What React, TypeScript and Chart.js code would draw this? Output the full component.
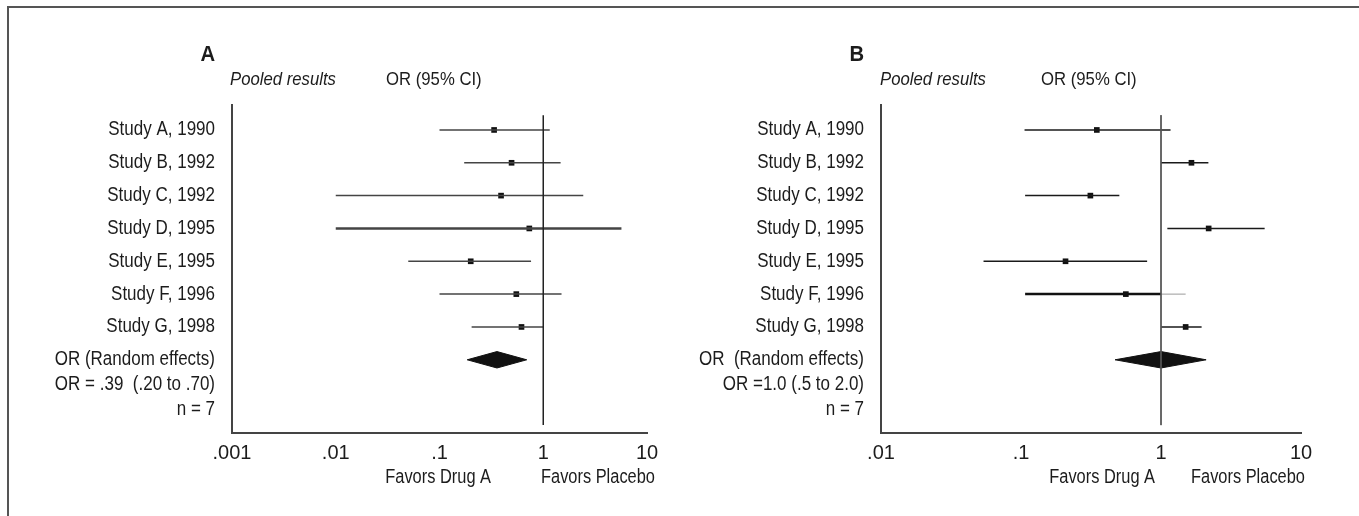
import React, { useEffect, useRef } from "react";
import { Chart, registerables } from "chart.js";

Chart.register(...registerables);

// ---------- data ----------
const studyLabels = [
  "Study A, 1990",
  "Study B, 1992",
  "Study C, 1992",
  "Study D, 1995",
  "Study E, 1995",
  "Study F, 1996",
  "Study G, 1998",
];
const rowPositions = [1, 2, 3, 4, 5, 6, 7];
const pooledRow = 8;

// Panel A (odds ratios, 95% CI)
const aEstimate = [0.336, 0.495, 0.392, 0.734, 0.2, 0.55, 0.617];
const aLower = [0.1, 0.173, 0.01, 0.01, 0.05, 0.1, 0.204];
const aUpper = [1.155, 1.47, 2.43, 5.67, 0.763, 1.5, 1.0];
const aPooled = [0.185, 0.358, 0.693]; // lower, estimate, upper
const aTicks = [0.001, 0.01, 0.1, 1, 10];
const aTickLabels = [".001", ".01", ".1", "1", "10"];
const aSummary = ["OR (Random effects)", "OR = .39  (.20 to .70)", "n = 7"];

// Panel B
const bEstimate = [0.348, 1.65, 0.313, 2.19, 0.208, 0.561, 1.5];
const bLower = [0.106, 1.0, 0.107, 1.11, 0.054, 0.107, 1.0];
const bUpper = [1.17, 2.18, 0.504, 5.5, 0.796, 1.5, 1.95];
const bPooled = [0.47, 1.0, 2.1];
const bTicks = [0.01, 0.1, 1, 10];
const bTickLabels = [".01", ".1", "1", "10"];
const bSummary = ["OR  (Random effects)", "OR =1.0 (.5 to 2.0)", "n = 7"];

const FONT = "'Liberation Sans', Arial, sans-serif";
const TEXT = "#1c1c1c";

function drawText(
  ctx: CanvasRenderingContext2D,
  text: string,
  x: number,
  y: number,
  align: CanvasTextAlign,
  font: string,
  sx: number
) {
  ctx.save();
  ctx.font = font;
  ctx.fillStyle = TEXT;
  ctx.textAlign = align;
  ctx.textBaseline = "middle";
  ctx.translate(x, y);
  ctx.scale(sx, 1);
  ctx.fillText(text, 0, 0);
  ctx.restore();
}

type PanelProps = {
  letter: string;
  estimate: number[];
  lower: number[];
  upper: number[];
  pooled: number[];
  ticks: number[];
  tickLabels: string[];
  summary: string[];
  xMin: number;
  xMax: number;
  left: number;
  width: number;
  pad: { left: number; right: number; top: number; bottom: number };
  lineWidths: number[];
  lineColor: string;
  splitAtOne: boolean[];
  refWidth: number;
  refColor: string;
  pooledX: number;
  orX: number;
  drugRight: number;
  placeboLeft: number;
};

function Panel(p: PanelProps) {
  const ref = useRef<HTMLCanvasElement>(null);
  useEffect(() => {
    if (!ref.current) return;
    const datasets: any[] = [];
    datasets.push({
      data: [
        { x: 1, y: 0.55 },
        { x: 1, y: 9.99 },
      ],
      borderColor: p.refColor,
      borderWidth: p.refWidth,
      pointRadius: 0,
    });
    studyLabels.forEach((_, i) => {
      const y = rowPositions[i];
      const split = p.splitAtOne[i];
      const pts = split
        ? [
            { x: p.lower[i], y },
            { x: 1, y },
            { x: p.upper[i], y },
          ]
        : [
            { x: p.lower[i], y },
            { x: p.upper[i], y },
          ];
      const ds: any = {
        data: pts,
        borderColor: p.lineColor,
        borderWidth: p.lineWidths[i],
        pointRadius: 0,
      };
      if (split) {
        ds.segment = {
          borderWidth: (c: any) => (c.p0DataIndex === 0 ? 2.5 : 1),
          borderColor: (c: any) => (c.p0DataIndex === 0 ? "#111" : "#9a9a9a"),
        };
      }
      datasets.push(ds);
    });
    const h = 0.25;
    const [lo, est, hi] = p.pooled;
    datasets.push({
      data: [
        { x: lo, y: pooledRow },
        { x: est, y: pooledRow - h },
        { x: hi, y: pooledRow },
        { x: est, y: pooledRow + h },
        { x: lo, y: pooledRow },
      ],
      borderColor: "#111",
      backgroundColor: "#111",
      borderWidth: 1,
      fill: "shape",
      pointRadius: 0,
    });
    datasets.push({
      data: p.estimate.map((v, i) => ({ x: v, y: rowPositions[i] })),
      showLine: false,
      pointStyle: "rect",
      pointRadius: 4,
      pointBackgroundColor: "#111",
      pointBorderColor: "#111",
      pointBorderWidth: 0,
      borderColor: "#111",
    });

    const textPlugin = {
      id: "forestText",
      afterDraw(chart: any) {
        const ctx = chart.ctx as CanvasRenderingContext2D;
        const area = chart.chartArea;
        const ys = chart.scales.y;
        const labelX = area.left - 17;
        drawText(ctx, p.letter, labelX, 55, "right", `bold 22px ${FONT}`, 0.92);
        drawText(ctx, "Pooled results", p.pooledX, 80, "left", `italic 19px ${FONT}`, 0.88);
        drawText(ctx, "OR (95% CI)", p.orX, 80, "left", `19px ${FONT}`, 0.88);
        studyLabels.forEach((s, i) => {
          drawText(ctx, s, labelX, ys.getPixelForValue(rowPositions[i]), "right", `20px ${FONT}`, 0.85);
        });
        const sumRows = [pooledRow, pooledRow + 0.75, pooledRow + 1.5];
        p.summary.forEach((s, i) => {
          drawText(ctx, s, labelX, ys.getPixelForValue(sumRows[i]), "right", `20px ${FONT}`, 0.85);
        });
        drawText(ctx, "Favors Drug A", p.drugRight, 477, "right", `20px ${FONT}`, 0.82);
        drawText(ctx, "Favors Placebo", p.placeboLeft, 477, "left", `20px ${FONT}`, 0.82);
      },
    };

    const chart = new Chart(ref.current, {
      type: "line",
      data: { datasets },
      options: {
        animation: false,
        responsive: false,
        events: [],
        layout: { padding: p.pad },
        plugins: { legend: { display: false }, tooltip: { enabled: false } },
        scales: {
          x: {
            type: "logarithmic",
            min: p.xMin,
            max: p.xMax,
            afterBuildTicks: (s: any) => {
              s.ticks = p.ticks.map((v) => ({ value: v }));
            },
            afterFit: (s: any) => {
              s.height = 60;
            },
            ticks: {
              autoSkip: false,
              maxRotation: 0,
              padding: 8,
              color: TEXT,
              font: { family: "'Liberation Sans Narrow', 'Liberation Sans', sans-serif", size: 20 },
              callback: (_v: any, i: number) => p.tickLabels[i],
            },
            grid: { display: false, drawTicks: false },
            border: { display: true, color: "#444", width: 2 },
          },
          y: {
            type: "linear",
            min: 0.24,
            max: 10.23,
            reverse: true,
            afterFit: (s: any) => {
              s.width = 0;
            },
            ticks: { display: false },
            grid: { display: false, drawTicks: false },
            border: { display: true, color: "#444", width: 2 },
          },
        },
      } as any,
      plugins: [textPlugin],
    });
    return () => chart.destroy();
  }, []);
  return (
    <canvas
      ref={ref}
      width={p.width}
      height={516}
      style={{ position: "absolute", left: p.left, top: 0, width: p.width, height: 516, display: "block" }}
    />
  );
}

export default function App() {
  return (
    <div
      style={{
        position: "absolute",
        left: 0,
        top: 0,
        width: 1359,
        height: 516,
        overflow: "hidden",
        background: "#fff",
      }}
    >
      <div
        style={{
          position: "absolute",
          left: 7,
          top: 6,
          width: 1400,
          height: 600,
          borderTop: "2px solid #555",
          borderLeft: "2px solid #555",
        }}
      />
      <Panel
        letter="A"
        estimate={aEstimate}
        lower={aLower}
        upper={aUpper}
        pooled={aPooled}
        ticks={aTicks}
        tickLabels={aTickLabels}
        summary={aSummary}
        xMin={0.001}
        xMax={10}
        left={0}
        width={680}
        pad={{ left: 232, right: 33, top: 105, bottom: 23 }}
        lineWidths={[1.5, 1.5, 1.5, 2.5, 1.5, 1.5, 1.5]}
        lineColor="#444"
        splitAtOne={[false, false, false, false, false, false, false]}
        refWidth={1.5}
        refColor="#222"
        pooledX={230}
        orX={386}
        drugRight={491}
        placeboLeft={541}
      />
      <Panel
        letter="B"
        estimate={bEstimate}
        lower={bLower}
        upper={bUpper}
        pooled={bPooled}
        ticks={bTicks}
        tickLabels={bTickLabels}
        summary={bSummary}
        xMin={0.01}
        xMax={10}
        left={680}
        width={679}
        pad={{ left: 201, right: 58, top: 105, bottom: 23 }}
        lineWidths={[1.5, 1.5, 1.5, 1.5, 1.5, 1.5, 1.5]}
        lineColor="#1a1a1a"
        splitAtOne={[false, false, false, false, false, true, false]}
        refWidth={1}
        refColor="#555"
        pooledX={200}
        orX={361}
        drugRight={475}
        placeboLeft={511}
      />
    </div>
  );
}
